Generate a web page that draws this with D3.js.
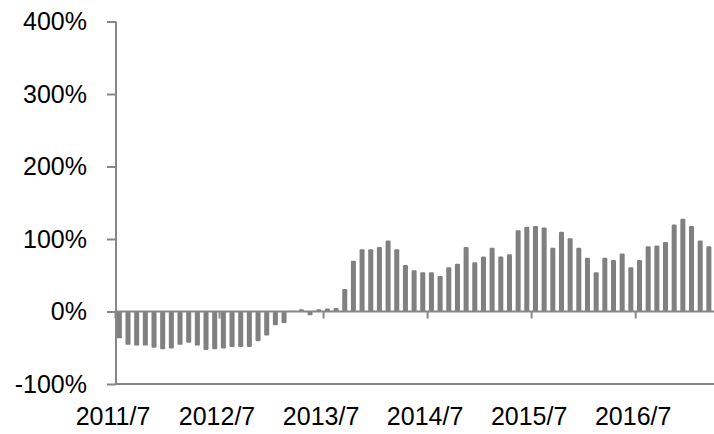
<!DOCTYPE html>
<html>
<head>
<meta charset="utf-8">
<script src="https://cdn.jsdelivr.net/npm/d3@7"></script>
<style>
  html, body { margin: 0; padding: 0; background: #fff; }
  svg { display: block; }
  text { font-family: 'Liberation Sans', Arial, sans-serif; font-size: 25px; fill: #000; }
</style>
</head>
<body>
<svg id="chart" width="714" height="434"></svg>
<script>
// monthly values, 2011/7 .. 2017/3 (percent)
const startYear = 2011
const startMonth = 7
const values = [
  -37, -46, -47, -47, -50, -52, -51, -46, -43, -47, -53, -52,
  -51, -49, -49, -49, -41, -33, -19, -16, 1, 3, -5, 3,
  4, 5, 31, 70, 86, 86, 89, 98, 86, 64, 57, 54,
  54, 49, 61, 66, 89, 68, 76, 88, 76, 79, 112, 117,
  118, 116, 88, 110, 101, 88, 74, 54, 74, 71, 80, 61,
  71, 90, 91, 96, 120, 128, 118, 98, 90
]
const xTickLabels = ['2011/7', '2012/7', '2013/7', '2014/7', '2015/7', '2016/7']
const yTicks = [-100, 0, 100, 200, 300, 400]

const months = values.map((v, i) => {
  const m = startMonth - 1 + i
  return (startYear + Math.floor(m / 12)) + '/' + (m % 12 + 1)
})

const plot = {left: 116, right: 714, top: 21.5, bottom: 384}
const axisColor = '#878787'
const barColor = '#808080'

const svg = d3.select('#chart')

// scales
const x = d3.scaleBand()
  .domain(months)
  .range([115, 713.2])
  .paddingInner(0.42)
  .paddingOuter(0.21)

// month index -> position of the left edge of that month
const xIdx = d3.scaleLinear()
  .domain([0, months.length])
  .range([115, 713.2])

const y = d3.scaleLinear()
  .domain([-100, 400])
  .range([plot.bottom, plot.top])

// bars
svg.append('g')
  .selectAll('rect')
  .data(values)
  .join('rect')
    .attr('x', (d, i) => x(months[i]))
    .attr('width', x.bandwidth())
    .attr('y', d => y(Math.max(0, d)))
    .attr('height', d => Math.abs(y(d) - y(0)))
    .attr('rx', 1.2)
    .attr('fill', barColor)

// y axis
const yAxis = d3.axisLeft(y)
  .tickValues(yTicks)
  .tickSize(9)
  .tickPadding(20)
  .tickFormat(d => d + '%')
const yAxisEl = svg.append('g')
  .attr('transform', 'translate(' + plot.left + ',0)')
  .call(yAxis)
yAxisEl.select('.domain').attr('stroke', axisColor).attr('stroke-width', 2)
  .attr('d', 'M0,' + plot.top + 'V' + plot.bottom)
yAxisEl.selectAll('.tick line').attr('stroke', axisColor).attr('stroke-width', 2)
yAxisEl.selectAll('.tick text')
  .attr('font-family', null)
  .attr('font-size', null)
  .attr('fill', '#000')

// bottom border at -100%
svg.append('line')
  .attr('x1', plot.left).attr('x2', plot.right)
  .attr('y1', y(-100)).attr('y2', y(-100))
  .attr('stroke', axisColor).attr('stroke-width', 2)

// x axis along 0%
const julyIdx = xTickLabels.map(l => months.indexOf(l))
const xAxis = d3.axisBottom(xIdx)
  .tickValues(julyIdx)
  .tickSize(7)
  .tickFormat('')
const xAxisEl = svg.append('g')
  .attr('transform', 'translate(0,' + y(0) + ')')
  .call(xAxis)
xAxisEl.select('.domain').attr('stroke', axisColor).attr('stroke-width', 2)
  .attr('d', 'M' + plot.left + ',0H' + plot.right)
xAxisEl.selectAll('.tick line').attr('stroke', axisColor).attr('stroke-width', 2)

// x tick labels below the plot
svg.append('g')
  .selectAll('text')
  .data(xTickLabels)
  .join('text')
    .attr('x', (d, i) => xIdx(julyIdx[i]) - 2)
    .attr('y', 425)
    .attr('text-anchor', 'middle')
    .text(d => d)
</script>
</body>
</html>
